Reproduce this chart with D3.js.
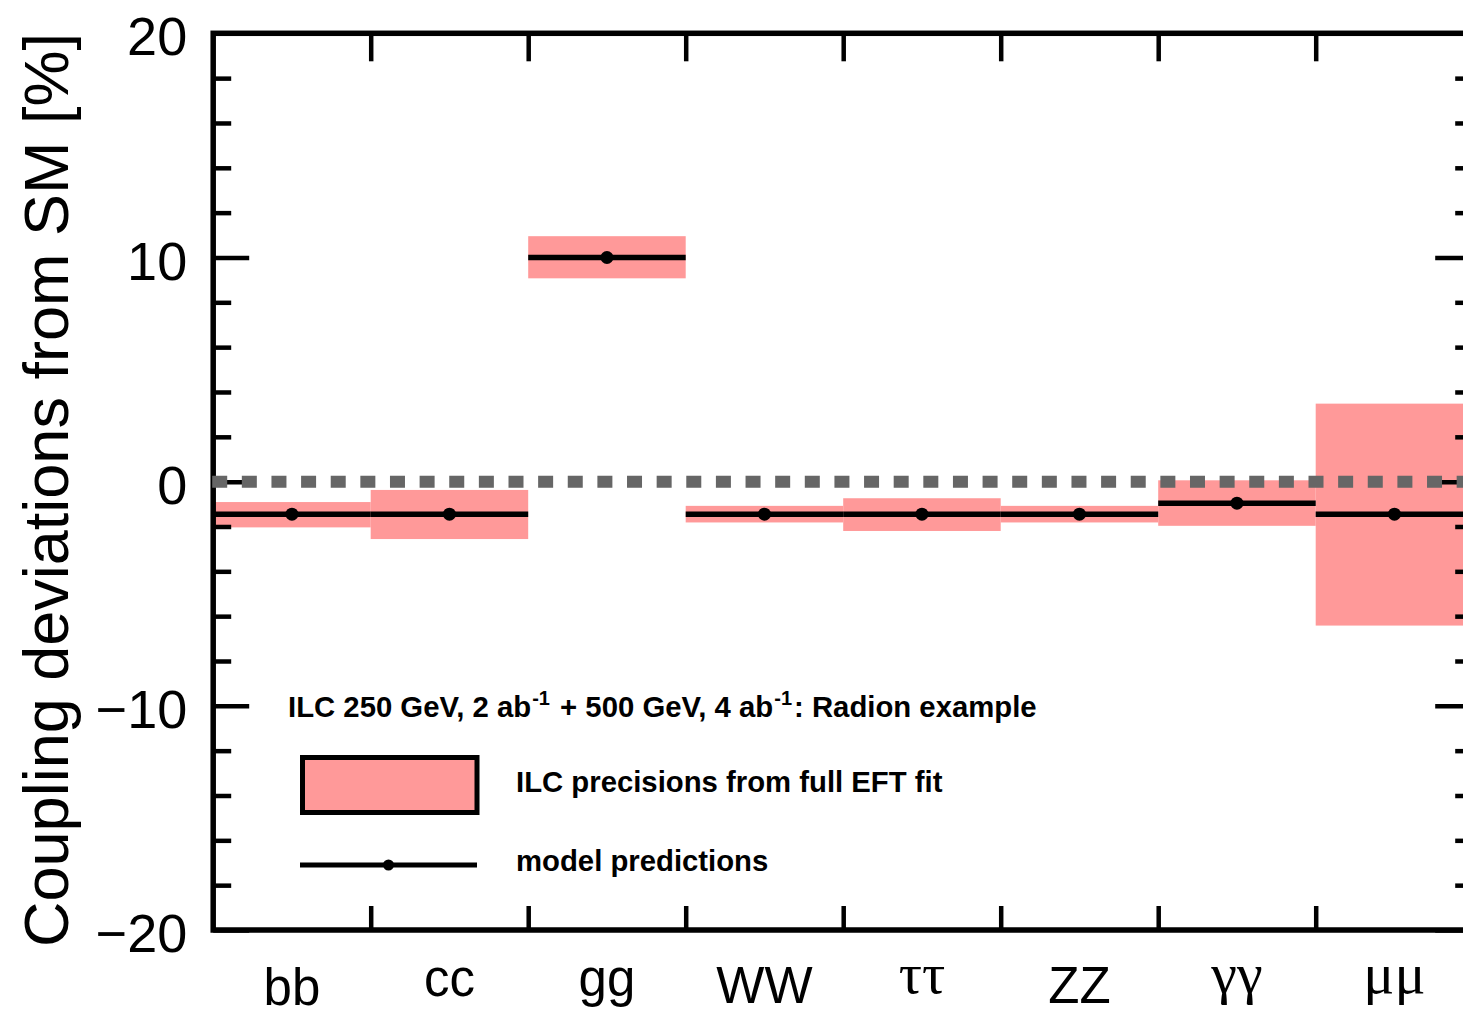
<!DOCTYPE html>
<html>
<head>
<meta charset="utf-8">
<script src="https://cdn.jsdelivr.net/npm/d3@7"></script>
<style>
  html, body { margin: 0; padding: 0; background: #fff; overflow: hidden; }
  svg { display: block; font-family: "Liberation Sans", Arial, Helvetica, sans-serif; }
</style>
</head>
<body>
<svg id="chart"></svg>
<script>
// --- data ---
const channels = ["bb", "cc", "gg", "WW", "ττ", "ZZ", "γγ", "μμ"];
const greek = ["ττ", "γγ", "μμ"];
// model predictions (% deviation from SM)
const model = [-1.45, -1.45, 10.0, -1.45, -1.45, -1.45, -0.96, -1.45];
// ILC precision band, lower and upper edge
const bandLow = [-2.04, -2.56, 9.07, -1.82, -2.20, -1.82, -1.97, -6.42];
const bandHigh = [-0.91, -0.37, 10.95, -1.08, -0.74, -1.08, 0.06, 3.48];
const yMajor = [-20, -10, 0, 10, 20];
const yMinor = [-18, -16, -14, -12, -8, -6, -4, -2, 2, 4, 6, 8, 12, 14, 16, 18];

const W = 1463, H = 1012;
const svg = d3.select("#chart").attr("width", W).attr("height", H);

// plot frame (right edge sits just outside the window)
const pLeft = 213.2, pRight = 1473.2, pTop = 33.3, pBottom = 930;
const pink = "#ff9999";

const x = d3.scaleBand().domain(channels).range([pLeft, pRight]).padding(0);
const xi = d3.scaleLinear().domain([0, channels.length]).range([pLeft, pRight]);
const y = d3.scaleLinear().domain([-20, 20]).range([pBottom, pTop]);

const rows = channels.map((c, i) => ({ c, m: model[i], lo: bandLow[i], hi: bandHigh[i] }));

// bands
svg.append("g").selectAll("rect")
  .data(rows).enter().append("rect")
  .attr("x", d => x(d.c))
  .attr("width", x.bandwidth())
  .attr("y", d => y(d.hi))
  .attr("height", d => y(d.lo) - y(d.hi))
  .attr("fill", pink);

// model lines + dots
const mg = svg.append("g");
mg.selectAll("line")
  .data(rows).enter().append("line")
  .attr("x1", d => x(d.c)).attr("x2", d => x(d.c) + x.bandwidth())
  .attr("y1", d => y(d.m)).attr("y2", d => y(d.m))
  .attr("stroke", "#000").attr("stroke-width", 5.5);
mg.selectAll("circle")
  .data(rows).enter().append("circle")
  .attr("cx", d => x(d.c) + x.bandwidth() / 2)
  .attr("cy", d => y(d.m))
  .attr("r", 6.5).attr("fill", "#000");

// axes / ticks
function styleAxis(g) {
  g.select(".domain").remove();
  g.selectAll(".tick line").attr("stroke", "#000").attr("stroke-width", 4.5);
}

svg.append("g").attr("transform", `translate(${pLeft},0)`)
  .call(d3.axisLeft(y).tickValues(yMajor).tickSize(-36).tickPadding(26)
    .tickFormat(d => d < 0 ? "\u2212" + Math.abs(d) : d))
  .call(styleAxis)
  .call(g => g.selectAll("text")
    .attr("font-size", 54).attr("fill", "#000").attr("dy", "0.4em")
    .attr("font-family", "'Liberation Sans', Arial, sans-serif"));

svg.append("g").attr("transform", `translate(${pLeft},0)`)
  .call(d3.axisLeft(y).tickValues(yMinor).tickSize(-18).tickFormat(""))
  .call(styleAxis);

svg.append("g").attr("transform", `translate(${pRight},0)`)
  .call(d3.axisRight(y).tickValues(yMajor).tickSize(-38).tickFormat(""))
  .call(styleAxis);
svg.append("g").attr("transform", `translate(${pRight},0)`)
  .call(d3.axisRight(y).tickValues(yMinor).tickSize(-18).tickFormat(""))
  .call(styleAxis);

const bounds = d3.range(1, channels.length);
svg.append("g").attr("transform", `translate(0,${pTop})`)
  .call(d3.axisTop(xi).tickValues(bounds).tickSize(-28).tickFormat(""))
  .call(styleAxis);
svg.append("g").attr("transform", `translate(0,${pBottom})`)
  .call(d3.axisBottom(xi).tickValues(bounds).tickSize(-24).tickFormat(""))
  .call(styleAxis);

// frame
svg.append("rect")
  .attr("x", pLeft).attr("y", pTop)
  .attr("width", pRight - pLeft).attr("height", pBottom - pTop)
  .attr("fill", "none").attr("stroke", "#000").attr("stroke-width", 5.5);

// category labels: tops aligned, measured with a canvas
const ctx = document.createElement("canvas").getContext("2d");
const labelTop = 967;
svg.append("g").selectAll("text")
  .data(channels).enter().append("text")
  .each(function (c) {
    const isGreek = greek.includes(c);
    const fam = isGreek ? "'Liberation Serif', 'Times New Roman', serif" : "'Liberation Sans', Arial, sans-serif";
    const size = isGreek ? 58 : 51;
    ctx.font = `${size}px ${fam}`;
    const asc = ctx.measureText(c).actualBoundingBoxAscent || size * 0.72;
    d3.select(this)
      .attr("x", x(c) + x.bandwidth() / 2)
      .attr("y", labelTop + asc)
      .attr("text-anchor", "middle")
      .attr("font-family", fam)
      .attr("font-size", size)
      .text(c);
  });

// y title
svg.append("text")
  .attr("transform", `translate(68,${(35 + 945) / 2}) rotate(-90)`)
  .attr("text-anchor", "middle")
  .attr("font-size", 63)
  .text("Coupling deviations from SM [%]");

// legend
const lg = svg.append("g").attr("font-weight", "bold").attr("font-size", 29.3);
const title = lg.append("text").attr("x", 288).attr("y", 717);
title.append("tspan").text("ILC 250 GeV, 2 ab");
title.append("tspan").attr("font-size", 20).attr("dy", -12).attr("dx", 1).text("-1");
title.append("tspan").attr("dy", 12).attr("dx", 2).text(" + 500 GeV, 4 ab");
title.append("tspan").attr("font-size", 20).attr("dy", -12).attr("dx", 1).text("-1");
title.append("tspan").attr("dy", 12).attr("dx", 2).text(": Radion example");

lg.append("rect")
  .attr("x", 302.5).attr("y", 757.5).attr("width", 174.5).attr("height", 55)
  .attr("fill", pink).attr("stroke", "#000").attr("stroke-width", 5);
lg.append("text").attr("x", 516).attr("y", 792).text("ILC precisions from full EFT fit");

lg.append("line")
  .attr("x1", 300).attr("x2", 477).attr("y1", 865).attr("y2", 865)
  .attr("stroke", "#000").attr("stroke-width", 5);
lg.append("circle").attr("cx", 388.5).attr("cy", 865).attr("r", 5.5).attr("fill", "#000");
lg.append("text").attr("x", 516).attr("y", 871).text("model predictions");

// SM reference line
svg.append("line")
  .attr("x1", pLeft - 1).attr("x2", pRight)
  .attr("y1", y(0)).attr("y2", y(0))
  .attr("stroke", "#666").attr("stroke-width", 12)
  .attr("stroke-dasharray", "15,14.63");
</script>
</body>
</html>
